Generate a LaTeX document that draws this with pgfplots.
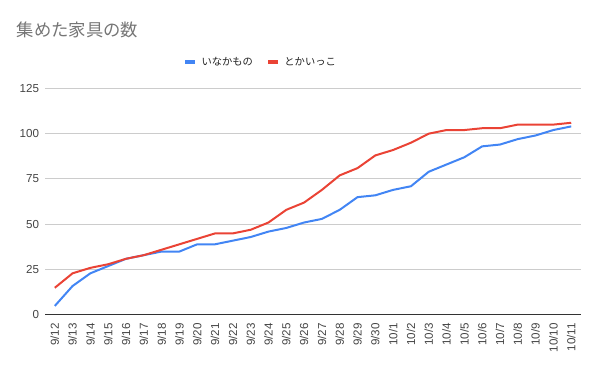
\documentclass[border=0pt]{standalone}
\usepackage{pgfplots}
\pgfplotsset{compat=1.18}
\usepackage{fontspec}
\setmainfont{Liberation Sans}
\newfontfamily\cjk{Noto Sans CJK JP}
\definecolor{cblue}{HTML}{4285F4}
\definecolor{cred}{HTML}{EA4335}
\definecolor{titlegray}{HTML}{757575}
\definecolor{labelgray}{HTML}{444444}
\definecolor{gridgray}{HTML}{CCCCCC}
\definecolor{axisdark}{HTML}{333333}
\begin{document}
\begin{tikzpicture}
\useasboundingbox (0,0) rectangle (450pt,278.25pt);
\node[anchor=west, text=titlegray, font=\cjk\fontsize{13}{15}\selectfont, inner sep=0pt] at (12.5pt,255.75pt) {集めた家具の数};
\begin{axis}[
  at={(33.75pt,42pt)}, anchor=south west,
  scale only axis, width=402pt, height=170pt,
  xmin=-0.55, xmax=29.55, ymin=0, ymax=125,
  axis x line*=bottom, axis y line*=left,
  x axis line style={draw=axisdark, line width=0.75pt},
  y axis line style={draw=none},
  ytick={0,25,50,75,100,125},
  xtick={0,...,29},
  xticklabels={9/12,9/13,9/14,9/15,9/16,9/17,9/18,9/19,9/20,9/21,9/22,9/23,9/24,9/25,9/26,9/27,9/28,9/29,9/30,10/1,10/2,10/3,10/4,10/5,10/6,10/7,10/8,10/9,10/10,10/11},
  major tick length=0pt,
  ymajorgrids, grid style={draw=gridgray, line width=0.75pt},
  /pgf/number format/assume math mode=true,
  tick label style={font=\fontsize{8.7}{10}\selectfont, text=labelgray},
  yticklabel style={anchor=east, inner sep=0pt, xshift=-4.3pt},
  xticklabel style={yshift=-6pt, rotate=90, anchor=east, inner sep=0pt},
  legend style={at={(rel axis cs:0.403,1.116)}, anchor=center, draw=none, fill=none,
    legend columns=2, font=\cjk\fontsize{7.7}{10}\selectfont, text=black!87,
    /tikz/every even column/.append style={column sep=8pt},
    /tikz/every odd column/.append style={column sep=1.5pt}},
  legend image code/.code={\draw[#1, line width=2.6pt] (0pt,0pt) -- (7.5pt,0pt);},
]
\addplot[cblue, line width=1.5pt] coordinates {
(0,5) (1,16) (2,23) (3,27) (4,31) (5,33) (6,35) (7,35) (8,39) (9,39)
(10,41) (11,43) (12,46) (13,48) (14,51) (15,53) (16,58) (17,65) (18,66) (19,69)
(20,71) (21,79) (22,83) (23,87) (24,93) (25,94) (26,97) (27,99) (28,102) (29,104)};
\addlegendentry{いなかもの}
\addplot[cred, line width=1.5pt] coordinates {
(0,15) (1,23) (2,26) (3,28) (4,31) (5,33) (6,36) (7,39) (8,42) (9,45)
(10,45) (11,47) (12,51) (13,58) (14,62) (15,69) (16,77) (17,81) (18,88) (19,91)
(20,95) (21,100) (22,102) (23,102) (24,103) (25,103) (26,105) (27,105) (28,105) (29,106)};
\addlegendentry{とかいっこ}
\end{axis}
\end{tikzpicture}
\end{document}
